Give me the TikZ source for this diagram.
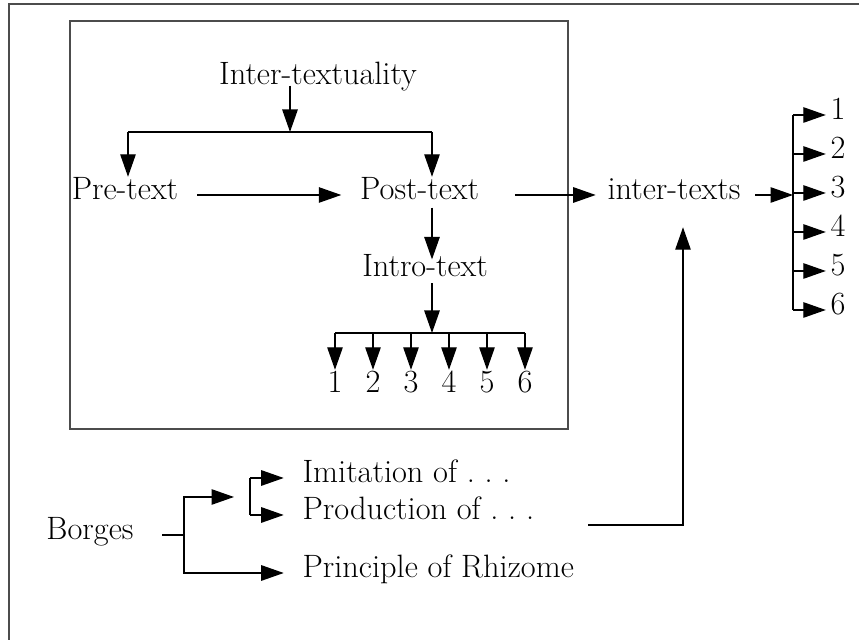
\documentclass[tikz,border=0pt]{standalone}
\usetikzlibrary{arrows.meta}
\tikzset{
  >={Triangle[length=16pt,width=11pt]},
  txt/.style={inner sep=0pt, text height=0.7em, text depth=0pt, font=\fontsize{23}{27}\selectfont},
  frame/.style={draw=black!70, line width=1pt},
}
\begin{document}
\begin{tikzpicture}[line width=0.9pt]
\useasboundingbox (0,0) rectangle (21.475,16);

\draw [frame] (0.225,0) -- (0.225,15.9) -- (21.475,15.9);
\draw [frame] (1.75,5.275) rectangle (14.2,15.475);

\node [txt] (inter) at (7.95,14.0) {Inter-textuality};

\node [txt] (pre) at (3.125,11.125) {Pre-text};

\node [txt] (post) at (10.49,11.125) {Post-text};

\node [txt] (intro) at (10.625,9.2) {Intro-text};

\node [txt] (itx) at (16.85,11.125) {inter-texts};

\node [txt] (borges) at (2.25,2.625) {Borges};

\node [txt, anchor=west] (imit) at (7.55,4.05) {Imitation of .\kern0.3em.\kern0.3em.};
\node [txt, anchor=west] (prod) at (7.55,3.125) {Production of .\kern0.3em.\kern0.3em.};
\node [txt, anchor=west] (rhiz) at (7.55,1.675) {Principle of Rhizome};

\foreach \i in {1,...,6}
  \node [txt] (d\i) at ({7.425+0.95*\i},6.3) {\i};

\foreach \i in {1,...,6}
  \node [txt, anchor=west] (r\i) at (20.75,{14.1-0.975*\i}) {\i};

\coordinate (bar1) at (7.25,12.7);
\coordinate (tl) at (3.2,12.7);
\coordinate (tr) at (10.8,12.7);
\coordinate (b2) at (10.8,7.675);
\coordinate (rb) at (19.825,11.125);
\coordinate (ps) at (14.7,2.875);
\coordinate (pj) at (17.075,2.875);
\coordinate (bj) at (4.6,2.625);
\coordinate (bt) at (5.85,3.575);
\coordinate (ib) at (6.25,3.575);

\draw [->] (inter.south -| bar1) -- (bar1);
\draw (tl) -- (tr);
\draw [->, shorten >=9pt] (tl) -- (tl |- pre.north);
\draw [->, shorten >=9pt] (tr) -- (tr |- post.north);

\draw [->, shorten <=13pt, shorten >=13pt] (pre.east) -- (post.west);
\draw [->, shorten <=5pt, shorten >=5pt] (post.south -| tr) -- (intro.north -| tr);
\draw [->, shorten <=4pt] (intro.south -| b2) -- (b2);

\draw (b2 -| d1) -- (b2 -| d6);
\foreach \i in {1,...,6}
  \draw [->, shorten >=9pt] (b2 -| d\i) -- (d\i.north);

\draw [->, shorten <=25pt, shorten >=8pt] (post.east) -- (itx.west);
\draw [->, shorten <=10pt] (itx.east) -- (rb);
\draw (r1.west -| rb) -- (r6.west -| rb);
\foreach \i in {1,...,6}
  \draw [->, shorten >=3pt] (r\i.west -| rb) -- (r\i.west);

\draw [->, shorten >=19pt] (ps) -- (pj) -- (pj |- itx.south);

\draw [shorten <=20pt] (borges.east) -- (bj);
\draw [->] (bj) |- (bt);
\draw [->, shorten >=13pt] (bj) |- (rhiz.west);

\draw (imit.west -| ib) -- (prod.west -| ib);
\draw [->, shorten >=13pt] (imit.west -| ib) -- (imit.west);
\draw [->, shorten >=13pt] (prod.west -| ib) -- (prod.west);

\end{tikzpicture}
\end{document}
